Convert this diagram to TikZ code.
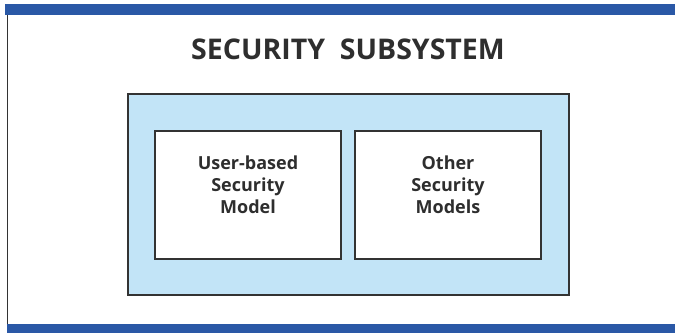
\documentclass[tikz,border=0pt]{standalone}
\usepackage{fontspec}
\setmainfont{Open Sans}
\definecolor{barblue}{HTML}{2A58A6}
\definecolor{lightblue}{HTML}{C2E4F7}
\definecolor{frame}{HTML}{333333}
\begin{document}
\begin{tikzpicture}[x=1pt,y=-1pt,
  model/.style={draw=frame,line width=1.3pt,fill=white,inner sep=0pt,minimum width=186pt,minimum height=128pt},
  modeltext/.style={align=center,font=\bfseries\fontsize{18}{22}\selectfont,text=black!82}]
\useasboundingbox (0,0) rectangle (675,333);
\fill[white] (0,0) rectangle (675,333);
\fill[barblue] (5,4) rectangle (675,15);
\fill[barblue] (7,324) rectangle (675,333);
\draw[frame,line width=1.5pt] (7.5,15) -- (7.5,324);
\node[font=\bfseries\fontsize{28.5}{34}\selectfont,text=black!82] (title) at (348,49) {SECURITY\ \ SUBSYSTEM};
\draw[frame,line width=1.3pt,fill=lightblue] (128,94) rectangle (569,295);
\node[model] (user) at (248,195) {};
\node[model] (other) at (448,195) {};
\node[modeltext] (ut) at (user.center) [yshift=10pt] {User-based\\Security\\Model};
\node[modeltext] (ot) at (other.center) [yshift=10pt] {Other\\Security\\Models};
\end{tikzpicture}
\end{document}
